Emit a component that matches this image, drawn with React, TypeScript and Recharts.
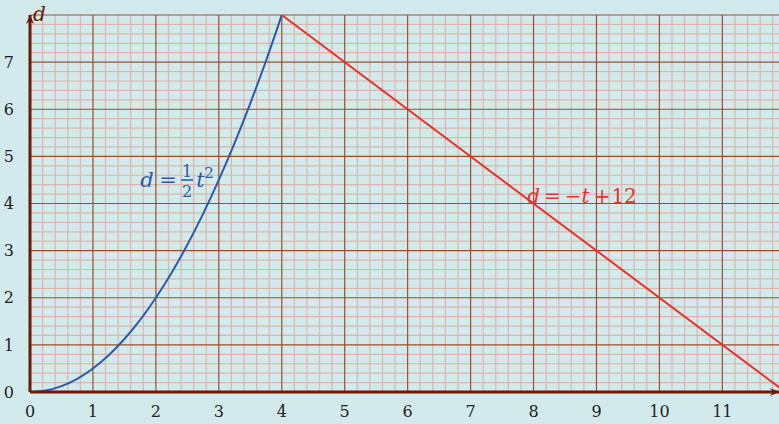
import { ComposedChart, Line, XAxis, YAxis, ReferenceLine, ReferenceDot } from "recharts";

// d = 1/2 t^2 (speeding up)
const riseT = [0, 0.25, 0.5, 0.75, 1, 1.25, 1.5, 1.75, 2, 2.25, 2.5, 2.75, 3, 3.25, 3.5, 3.75, 4];
const riseD = [0, 0.03, 0.125, 0.28, 0.5, 0.78, 1.125, 1.53, 2, 2.53, 3.125, 3.78, 4.5, 5.28, 6.125, 7.03, 8];

// d = -t + 12 (slowing down)
const fallT = [4, 12];
const fallD = [8, 0];

const xTicks = [0, 1, 2, 3, 4, 5, 6, 7, 8, 9, 10, 11];
const yTicks = [0, 1, 2, 3, 4, 5, 6, 7, 8];
const xMinor = Array.from({ length: 60 }, (_, i) => +(i * 0.2).toFixed(1)).filter((v) => v % 1 !== 0);
const yMinor = Array.from({ length: 41 }, (_, i) => +(i * 0.2).toFixed(1)).filter((v) => v % 1 !== 0);

const riseData = riseT.map((t, i) => ({ t, d: riseD[i] }));
const fallData = fallT.map((t, i) => ({ t, d: fallD[i] }));

const AXIS = "#6b1a06";
const MINOR = "#dab6a9";
const MAJOR = "#9c4d2c";
const SERIF = "'DejaVu Serif', serif";

const ArrowRight = (p: any) => (
  <path d={`M${p.cx - 9},${p.cy - 4} L${p.cx},${p.cy} L${p.cx - 9},${p.cy + 4} L${p.cx - 6},${p.cy} Z`} fill={AXIS} />
);
const ArrowUp = (p: any) => (
  <path d={`M${p.cx - 4},${p.cy + 9} L${p.cx},${p.cy} L${p.cx + 4},${p.cy + 9} L${p.cx},${p.cy + 6} Z`} fill={AXIS} />
);

const RiseLabel = (p: any) => (
  <g fill="#2b5ba8" fontFamily={SERIF} fontSize={21}>
    <text x={p.cx} y={p.cy} fontStyle="italic">d</text>
    <text x={p.cx + 19} y={p.cy}>=</text>
    <text x={p.cx + 47} y={p.cy - 10} fontSize={16} textAnchor="middle">1</text>
    <line x1={p.cx + 41} x2={p.cx + 53} y1={p.cy - 7} y2={p.cy - 7} stroke="#2b5ba8" strokeWidth={1.6} />
    <text x={p.cx + 47} y={p.cy + 10} fontSize={16} textAnchor="middle">2</text>
    <text x={p.cx + 56} y={p.cy} fontStyle="italic">t</text>
    <text x={p.cx + 64} y={p.cy - 9} fontSize={15}>2</text>
  </g>
);

const FallLabel = (p: any) => (
  <text x={p.cx} y={p.cy} fill="#e8312a" fontFamily={SERIF} fontSize={20}>
    <tspan fontStyle="italic">d</tspan>
    <tspan dx={4}>=</tspan>
    <tspan dx={4}>−</tspan>
    <tspan fontStyle="italic">t</tspan>
    <tspan dx={4}>+</tspan>
    <tspan dx={1}>12</tspan>
  </text>
);

const AxisLabel = (p: any) => (
  <text x={p.cx + 3} y={p.cy + 6} fill={AXIS} fontFamily={SERIF} fontSize={20} fontStyle="italic">d</text>
);

export default function App() {
  return (
    <div style={{ position: "absolute", left: 0, top: 0, width: 779, height: 424, background: "#d3eaed" }}>
      <ComposedChart width={779} height={424} margin={{ top: 15, right: 0, bottom: 0, left: 0 }}>
        <XAxis
          type="number"
          dataKey="t"
          domain={[0, 11.9]}
          allowDataOverflow
          ticks={xTicks}
          tickLine={false}
          axisLine={{ stroke: AXIS, strokeWidth: 3 }}
          height={32}
          tick={{ fill: "#222", fontFamily: SERIF, fontSize: 16 }}
          tickMargin={8}
        />
        <YAxis
          type="number"
          dataKey="d"
          domain={[0, 8]}
          allowDataOverflow
          ticks={yTicks.slice(0, 8)}
          tickLine={false}
          axisLine={{ stroke: AXIS, strokeWidth: 3 }}
          width={30}
          tick={{ fill: "#222", fontFamily: SERIF, fontSize: 16 }}
          tickMargin={10}
        />
        {xMinor.map((v) => (
          <ReferenceLine key={`xm${v}`} x={v} stroke={MINOR} strokeWidth={1.2} />
        ))}
        {yMinor.map((v) => (
          <ReferenceLine key={`ym${v}`} y={v} stroke={MINOR} strokeWidth={1.2} />
        ))}
        {xTicks.slice(1).map((v) => (
          <ReferenceLine key={`xM${v}`} x={v} stroke={MAJOR} strokeWidth={1.2} />
        ))}
        {yTicks.slice(1).map((v) => (
          <ReferenceLine key={`yM${v}`} y={v} stroke={MAJOR} strokeWidth={1.2} />
        ))}
        <Line data={riseData} dataKey="d" type="monotone" stroke="#2b5ba8" strokeWidth={2} dot={false} isAnimationActive={false} />
        <Line data={fallData} dataKey="d" type="linear" stroke="#e8312a" strokeWidth={2} dot={false} isAnimationActive={false} />
        <ReferenceDot x={11.9} y={0} ifOverflow="visible" shape={ArrowRight} />
        <ReferenceDot x={0} y={8} ifOverflow="visible" shape={ArrowUp} />
        <ReferenceDot x={0} y={8} ifOverflow="visible" shape={AxisLabel} />
        <ReferenceDot x={1.75} y={4.35} ifOverflow="visible" shape={RiseLabel} />
        <ReferenceDot x={7.9} y={4.02} ifOverflow="visible" shape={FallLabel} />
      </ComposedChart>
    </div>
  );
}
